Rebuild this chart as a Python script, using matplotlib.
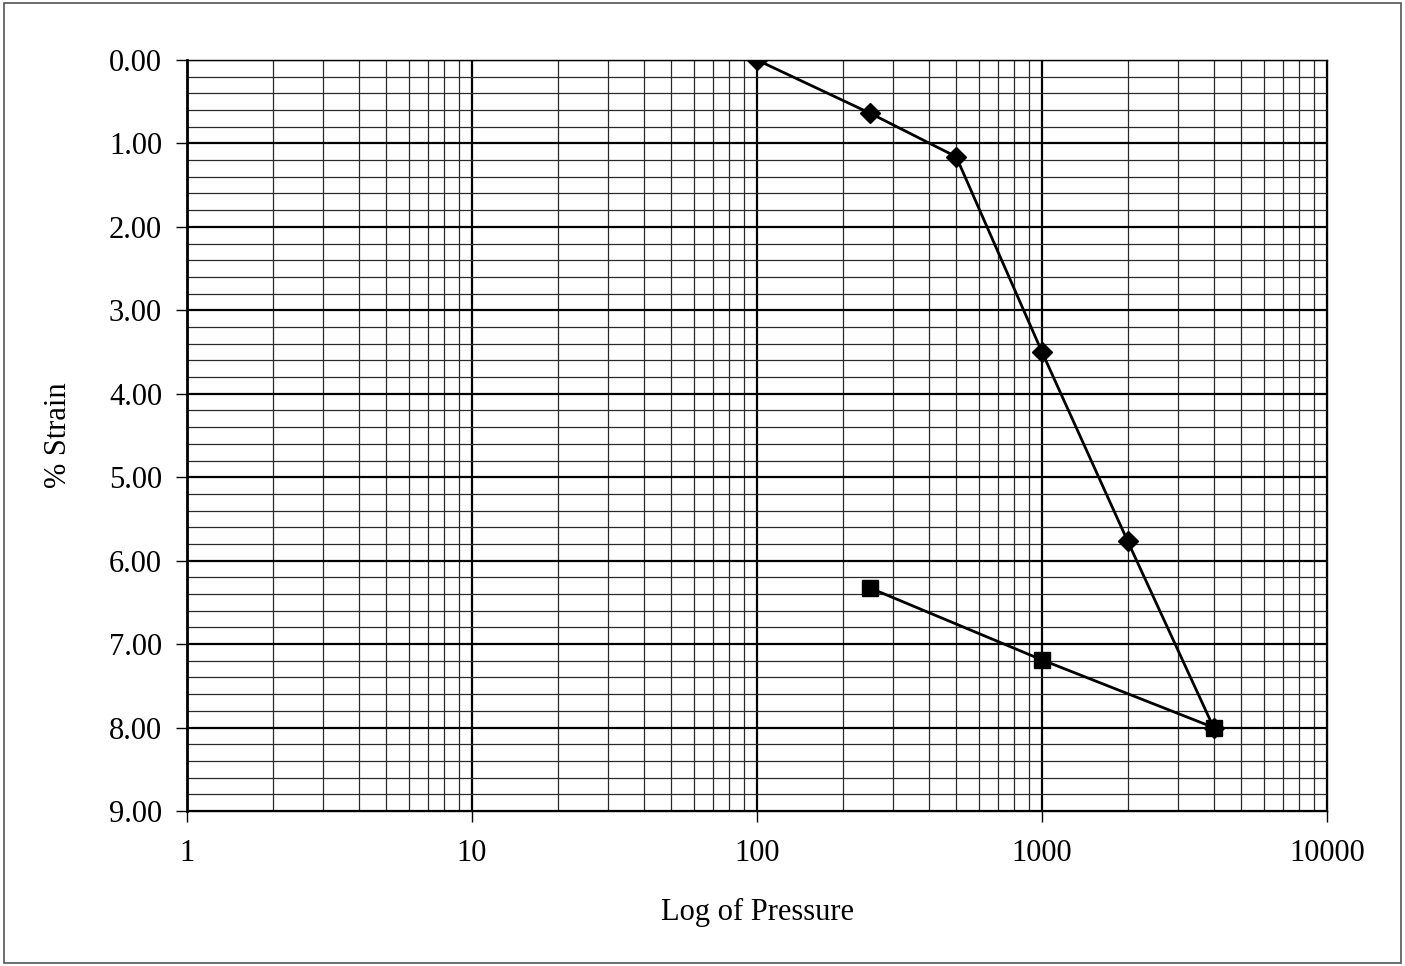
import matplotlib
matplotlib.use("Agg")
import matplotlib.pyplot as plt
from matplotlib.ticker import LogLocator, FixedLocator, MultipleLocator, FuncFormatter
from matplotlib.patches import Rectangle

# Data
loading_pressure = [100, 250, 500, 1000, 2000, 4000]
loading_strain = [0.00, 0.64, 1.16, 3.50, 5.77, 8.00]
unloading_pressure = [250, 1000, 4000]
unloading_strain = [6.33, 7.19, 8.00]
x_ticks = [1, 10, 100, 1000, 10000]
x_tick_labels = ["1", "10", "100", "1000", "10000"]
y_ticks = [0, 1, 2, 3, 4, 5, 6, 7, 8, 9]

plt.rcParams['font.family'] = ['Liberation Serif', 'DejaVu Serif']

fig = plt.figure(figsize=(14.05, 9.66), dpi=100)
ax = fig.add_axes([0.1331, 0.1605, 0.9445 - 0.1331, 0.9379 - 0.1605])

ax.set_xscale('log')
ax.set_xlim(1, 10000)
ax.set_ylim(9, 0)

ax.xaxis.set_major_locator(FixedLocator(x_ticks))
ax.set_xticklabels(x_tick_labels)
ax.xaxis.set_minor_locator(LogLocator(base=10, subs=range(2, 10)))
ax.xaxis.set_minor_formatter(FuncFormatter(lambda v, p: ""))
ax.yaxis.set_major_locator(FixedLocator(y_ticks))
ax.yaxis.set_major_formatter(FuncFormatter(lambda v, p: f"{v:.2f}"))
ax.yaxis.set_minor_locator(MultipleLocator(0.2))

ax.grid(which='major', color='black', linewidth=1.6)
ax.grid(which='minor', color='#2a2a2a', linewidth=0.9)
ax.set_axisbelow(True)

ax.tick_params(axis='both', which='major', direction='out', length=8, width=1,
               labelsize=22, color='black')
ax.tick_params(axis='y', which='major', pad=10)
ax.tick_params(axis='x', which='major', pad=12)
ax.tick_params(axis='both', which='minor', length=0)

for s in ax.spines.values():
    s.set_color('black')
    s.set_linewidth(1.0)
ax.spines['left'].set_linewidth(2)

ax.plot(loading_pressure, loading_strain, color='black', linewidth=2,
        marker='D', markersize=10, markerfacecolor='black', markeredgecolor='black', zorder=5)
ax.plot(unloading_pressure, unloading_strain, color='black', linewidth=2,
        marker='s', markersize=11, markerfacecolor='black', markeredgecolor='black', zorder=5)

ax.set_xlabel("Log of Pressure", fontsize=22, labelpad=22)
ax.set_ylabel("% Strain", fontsize=22, labelpad=26)

fig.patches.append(Rectangle((0.003, 0.003), 0.994, 0.994, transform=fig.transFigure,
                             fill=False, edgecolor='#555555', linewidth=1.2))

fig.savefig("out.png", dpi=100)
